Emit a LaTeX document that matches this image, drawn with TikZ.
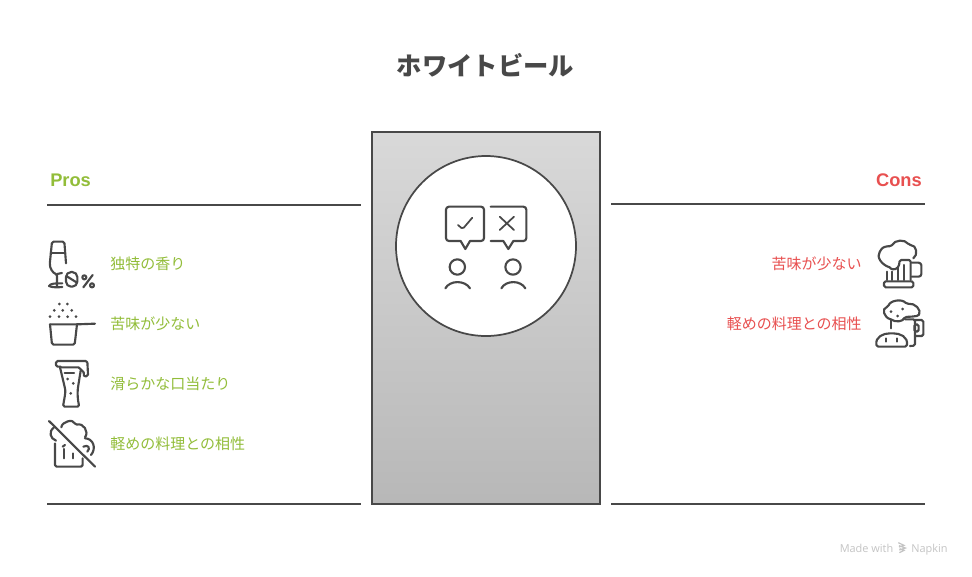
\documentclass[tikz,border=0pt]{standalone}
\usepackage{fontspec}
\setmainfont{Noto Sans CJK JP}
\newfontfamily\latinb{Liberation Sans}[BoldFont={Liberation Sans Bold}]
\newfontfamily\madef{Open Sans}
\definecolor{ink}{HTML}{484848}
\definecolor{prosc}{HTML}{92BD39}
\definecolor{consc}{HTML}{E85050}
\definecolor{markc}{HTML}{C4C4C4}
\tikzset{
  rule/.style={draw=ink,line width=1.4pt},
  ic/.style={draw=ink,line width=1.6pt,line cap=round,line join=round,rounded corners=1.2pt},
  prositem/.style={text=prosc,font=\fontsize{11.25pt}{13pt}\selectfont,anchor=west,inner sep=0pt},
  consitem/.style={text=consc,font=\fontsize{11.25pt}{13pt}\selectfont,anchor=east,inner sep=0pt},
  zoomed/.style={x=0.25pt,y=-0.25pt}
}
\begin{document}
\begin{tikzpicture}[x=0.75pt,y=-0.75pt]
\useasboundingbox (0,0) rectangle (972,576);
\fill[white] (0,0) rectangle (972,576);
\node[font=\fontsize{19pt}{22pt}\selectfont\bfseries,text=ink,inner sep=0pt] (title) at (485.5,65) {ホワイトビール};
% centre panel
\node[draw=ink,line width=1.3pt,minimum width=171pt,minimum height=279pt,inner sep=0pt,outer sep=0pt,top color=black!15,bottom color=black!28,anchor=north west] (panel) at (372,132) {};
\node[circle,draw=ink,fill=white,line width=1.3pt,minimum size=135pt,inner sep=0pt] (disc) at (486,246) {};
% rules
\coordinate (l1a) at (47,205); \coordinate (l1b) at (361,205);
\coordinate (l2a) at (47,504); \coordinate (l2b) at (361,504);
\coordinate (r1a) at (611,204); \coordinate (r1b) at (925,204);
\coordinate (r2a) at (611,504); \coordinate (r2b) at (925,504);
\draw[rule] (l1a)--(l1b); \draw[rule] (l2a)--(l2b); \draw[rule] (r1a)--(r1b); \draw[rule] (r2a)--(r2b);
% headers
\node[font=\latinb\fontsize{13.7pt}{18pt}\selectfont\bfseries,text=prosc,anchor=west,inner sep=0pt] (pros) at (50,180) {Pros};
\node[font=\latinb\fontsize{13.7pt}{18pt}\selectfont\bfseries,text=consc,anchor=east,inner sep=0pt] (cons) at (922,180) {Cons};
% items
\node[prositem] (p1) at (110,263.5) {独特の香り};
\node[prositem] (p2) at (110,323.5) {苦味が少ない};
\node[prositem] (p3) at (110,383.5) {滑らかな口当たり};
\node[prositem] (p4) at (110,443.5) {軽めの料理との相性};
\node[consitem] (c1) at (862,263.5) {苦味が少ない};
\node[consitem] (c2) at (862,323.5) {軽めの料理との相性};
% centre icon
\begin{scope}[shift={(430,195)},zoomed]
 \draw[ic,rounded corners=2.2pt] (92,138)--(48,138)--(48,35)--(162,35)--(162,138)--(120,138);
 \draw[ic,rounded corners=0pt] (92,138)--(106,162)--(120,138);
 \draw[ic,line width=1.3pt] (84,90)--(98,102)--(127,68);
 \draw[ic,rounded corners=2.2pt] (182,35)--(289,35)--(289,138)--(250,138);
 \draw[ic,rounded corners=0pt] (250,138)--(235,162)--(220,138)--(182,138);
 \draw[ic,line width=1.3pt] (209,65)--(252,105) (252,65)--(209,105);
 \draw[ic] (82,216) circle[radius=23];
 \draw[ic] (249,216) circle[radius=23];
 \draw[ic] (46,280) .. controls (60,255) and (105,255) .. (120,280);
 \draw[ic] (214,280) .. controls (228,255) and (272,255) .. (286,280);
\end{scope}
% icon 1: glass
\begin{scope}[shift={(30,230)},zoomed]
 \draw[ic] (108,100)--(103,35)--(66,35)--(60,95) .. controls (58,115) and (70,130) .. (81,132)--(81,168);
 \draw[ic] (62,70)--(105,70);
 \draw[ic] (81,132)--(96,129);
 \draw[ic] (57,168) .. controls (62,160) and (75,160) .. (97,160);
 \draw[ic] (57,168) .. controls (65,173) and (85,172) .. (97,171);
 \draw[ic,rounded corners=3.8pt] (108,126) rectangle (142,170);
 \draw[ic] (109,138)--(141,158);
 \draw[ic] (163,142) circle[radius=6];
 \draw[ic] (186,166) circle[radius=6];
 \draw[ic] (188,135)--(160,172);
 % icon 2: pot
 \foreach \px/\py in {88/222,112/222,73/241,98/241,125/241,60/260,87/260,113/260,138/260}
   \fill[ink] (\px,\py) circle[radius=4.5];
 \draw[ic] (60,283)--(66,344)--(134,344)--(141,283);
 \draw[ic] (60,283)--(141,283)--(195,281);
\end{scope}
% icons 3, 4
\begin{scope}[shift={(30,350)},zoomed]
 \draw[ic] (92,50)--(78,50)--(78,33)--(172,33)--(174,74);
 \draw[ic] (174,74) .. controls (173,82) and (162,80) .. (162,72) .. controls (160,62) and (152,62) .. (150,52)--(92,52);
 \draw[ic] (90,52)--(105,115) .. controls (107,130) and (102,150) .. (99,170)--(148,170) .. controls (143,150) and (142,130) .. (144,112)--(152,62);
 \draw[ic] (104,68)--(132,68);
 \fill[ink] (113,87) circle[radius=4.5] (130,100) circle[radius=4.5] (122,130) circle[radius=4.5];
 % mug crossed out
 \draw[ic] (57,213)--(195,350);
 \draw[ic] (75,280)--(75,350)--(158,350)--(158,325);
 \draw[ic] (103,297)--(103,325) (130,310)--(130,325);
 \draw[ic] (78,272) .. controls (60,265) and (55,245) .. (72,232);
 \draw[ic] (94,232) .. controls (95,215) and (130,205) .. (136,225) .. controls (160,218) and (178,245) .. (165,262);
 \draw[ic] (98,290)--(105,285) (165,265) .. controls (190,265) and (200,295) .. (183,315);
 \draw[ic] (160,290) .. controls (175,282) and (182,295) .. (172,305);
\end{scope}
% right icons
\begin{scope}[shift={(860,230)},zoomed]
 \draw[ic] (89,112) .. controls (65,105) and (48,80) .. (62,62) .. controls (68,50) and (85,48) .. (93,50) .. controls (105,28) and (135,28) .. (147,45) .. controls (170,45) and (175,75) .. (160,85);
 \draw[ic] (89,112) .. controls (92,118) and (105,122) .. (117,108)--(119,90)--(152,90)--(152,150);
 \draw[ic] (80,125)--(80,150) (97,125)--(97,150) (115,115)--(115,150) (133,105)--(133,150);
 \draw[ic] (72,154) rectangle (160,172);
 \draw[ic,rounded corners=2pt] (155,98)--(184,98)--(184,140)--(155,140);
 % second mug
 \draw[ic] (92,268) .. controls (70,262) and (65,235) .. (85,230) .. controls (90,212) and (125,205) .. (140,222) .. controls (165,218) and (185,240) .. (175,258) .. controls (160,258) and (150,262) .. (135,260) .. controls (128,275) and (108,278) .. (92,268);
 \fill[ink] (93,245) circle[radius=4.5] (128,237) circle[radius=4.5] (113,258) circle[radius=4.5];
 \draw[ic] (92,268)--(92,295);
 \draw[ic] (135,268)--(165,268)--(165,347)--(150,348);
 \draw[ic] (165,270)--(190,270)--(190,318)--(165,318);
 \draw[ic] (163,283) rectangle (176,305);
 \draw[ic] (50,350) .. controls (45,320) and (70,310) .. (95,310) .. controls (120,310) and (145,320) .. (140,350)--cycle;
 \draw[ic] (78,325)--(78,335) (110,325)--(110,335);
\end{scope}
% watermark
\node[font=\madef\fontsize{8.2pt}{10pt}\selectfont,text=markc,anchor=base west,inner sep=0pt] (made) at (839.5,552) {Made with};
\node[font=\madef\fontsize{8.2pt}{10pt}\selectfont,text=markc,anchor=base west,inner sep=0pt] (napkin) at (911,552) {Napkin};
\begin{scope}[shift={(830,535)},zoomed]
 \draw[markc,line width=.9pt] (205,23)--(222,31)--(207,36) (207,32)--(226,39)--(208,45) (209,41)--(222,46)--(208,53);
\end{scope}
\end{tikzpicture}
\end{document}
